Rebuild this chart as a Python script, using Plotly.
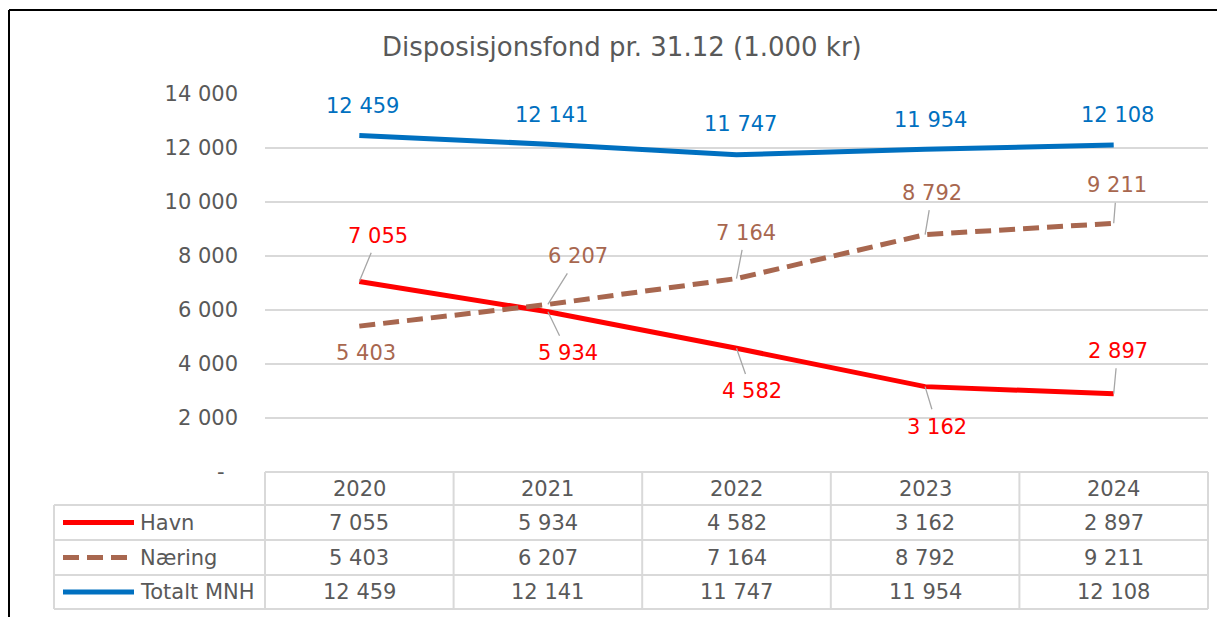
import plotly.graph_objects as go

# Disposisjonsfond pr. 31.12 (1.000 kr)
years = ["2020", "2021", "2022", "2023", "2024"]
havn = [7055, 5934, 4582, 3162, 2897]
naering = [5403, 6207, 7164, 8792, 9211]
totalt = [12459, 12141, 11747, 11954, 12108]

series_names = ["Havn", "Næring", "Totalt MNH"]
y_ticks = [0, 2000, 4000, 6000, 8000, 10000, 12000, 14000]

# page body has an 8px margin, so the figure is made smaller and shifted
OFF = 8
W, H = 1225 - OFF, 617 - OFF
FONT = "DejaVu Sans"
GREY = "#595959"
GRID = "#d9d9d9"
RED = "#ff0000"
BROWN = "#a8674f"
BLUE = "#0070c0"
FS = 21


def px_x(p):
    return (p - OFF) / W


def px_y(p):
    return 1 - (p - OFF) / H


def nb(v):
    # norwegian thousands separator
    return f"{v:,}".replace(",", " ")


# plot area in window pixels
plot_l, plot_r, plot_t, plot_b = 265, 1208, 94, 472
table_l = 54
row_lines = [505, 540, 575, 609]

fig = go.Figure()

series = [
    (havn, RED, "solid"),
    (naering, BROWN, "16px,8px"),
    (totalt, BLUE, "solid"),
]
for name, (vals, col, dash) in zip(series_names, series):
    fig.add_trace(go.Scatter(
        x=years, y=vals, mode="lines", name=name,
        line=dict(color=col, width=5, dash=dash),
        showlegend=False, hoverinfo="skip",
    ))

# data label offsets (dx, dy in px) and whether a leader line is drawn
label_style = {
    "Havn": [(19, -46, True), (20, 41, True), (15, 43, True), (12, 40, True), (4, -43, True)],
    "Næring": [(7, 27, False), (30, -48, True), (9, -46, True), (7, -42, True), (3, -38, True)],
    "Totalt MNH": [(3, -30, False), (4, -29, False), (4, -31, False), (5, -29, False), (4, -30, False)],
}

annotations = []
for name, (vals, col, _) in zip(series_names, series):
    for i, (v, (dx, dy, lead)) in enumerate(zip(vals, label_style[name])):
        annotations.append(dict(
            x=i, y=v, xref="x", yref="y", text=nb(v),
            showarrow=True, ax=dx, ay=dy, axref="pixel", ayref="pixel",
            arrowhead=0, arrowwidth=1.3, startstandoff=4,
            arrowcolor="#a6a6a6" if lead else "rgba(0,0,0,0)",
            font=dict(family=FONT, size=FS, color=col),
        ))

# title
annotations.append(dict(
    x=px_x(622), y=px_y(47), xref="paper", yref="paper",
    text="Disposisjonsfond pr. 31.12 (1.000 kr)", showarrow=False,
    xanchor="center", yanchor="middle",
    font=dict(family=FONT, size=26, color=GREY),
))

# data table: header and values
header_c = (plot_b + row_lines[0]) / 2
for i, yr in enumerate(years):
    annotations.append(dict(
        x=i, y=px_y(header_c), xref="x", yref="paper", text=yr,
        showarrow=False, yanchor="middle",
        font=dict(family=FONT, size=FS, color=GREY),
    ))

shapes = []
for r, (name, (vals, col, dash)) in enumerate(zip(series_names, series)):
    rc = (row_lines[r] + row_lines[r + 1]) / 2
    for i, v in enumerate(vals):
        annotations.append(dict(
            x=i, y=px_y(rc), xref="x", yref="paper", text=nb(v),
            showarrow=False, yanchor="middle",
            font=dict(family=FONT, size=FS, color=GREY),
        ))
    annotations.append(dict(
        x=px_x(138), y=px_y(rc), xref="paper", yref="paper", text=name,
        showarrow=False, xanchor="left", yanchor="middle",
        font=dict(family=FONT, size=FS, color=GREY),
    ))
    key_end = 128 if dash != "solid" else 134
    shapes.append(dict(
        type="line", xref="paper", yref="paper",
        x0=px_x(63), x1=px_x(key_end), y0=px_y(rc), y1=px_y(rc),
        line=dict(color=col, width=5, dash=dash if dash != "solid" else None),
    ))

# table grid
gl = dict(color=GRID, width=2)
col_w = (plot_r - plot_l) / len(years)
shapes.append(dict(type="line", xref="paper", yref="paper",
                   x0=px_x(plot_l), x1=px_x(plot_r), y0=px_y(plot_b), y1=px_y(plot_b), line=gl))
for ry in row_lines:
    shapes.append(dict(type="line", xref="paper", yref="paper",
                       x0=px_x(table_l), x1=px_x(plot_r), y0=px_y(ry), y1=px_y(ry), line=gl))
shapes.append(dict(type="line", xref="paper", yref="paper",
                   x0=px_x(table_l), x1=px_x(table_l), y0=px_y(row_lines[0]), y1=px_y(row_lines[-1]), line=gl))
for i in range(len(years) + 1):
    xv = plot_l + i * col_w
    shapes.append(dict(type="line", xref="paper", yref="paper",
                       x0=px_x(xv), x1=px_x(xv), y0=px_y(plot_b), y1=px_y(row_lines[-1]), line=gl))

# outer frame (top and left edge visible)
frame = dict(color="black", width=2)
shapes.append(dict(type="line", xref="paper", yref="paper",
                   x0=px_x(9), x1=1, y0=px_y(10), y1=px_y(10), line=frame))
shapes.append(dict(type="line", xref="paper", yref="paper",
                   x0=px_x(9), x1=px_x(9), y0=px_y(10), y1=0, line=frame))

tick_text = ["-\u00a0\u00a0"] + [nb(t) for t in y_ticks[1:]]

fig.update_layout(
    width=W, height=H, autosize=False,
    margin=dict(l=0, r=0, t=0, b=0, autoexpand=False),
    paper_bgcolor="white", plot_bgcolor="white",
    font=dict(family=FONT, size=FS, color=GREY),
    xaxis=dict(
        type="category", categoryorder="array", categoryarray=years,
        range=[-0.5, len(years) - 0.5],
        domain=[px_x(plot_l), px_x(plot_r)],
        showticklabels=False, showgrid=False, zeroline=False, showline=False,
        automargin=False, fixedrange=True,
    ),
    yaxis=dict(
        range=[0, 14000], domain=[px_y(plot_b), px_y(plot_t)],
        tickvals=y_ticks, ticktext=tick_text,
        showgrid=True, gridcolor=GRID, gridwidth=1.5,
        zeroline=False, showline=False, ticks="",
        ticklabelstandoff=26, automargin=False,
        tickfont=dict(family=FONT, size=FS, color=GREY),
        fixedrange=True,
    ),
    annotations=annotations,
    shapes=shapes,
)

fig.write_html("out.html")
